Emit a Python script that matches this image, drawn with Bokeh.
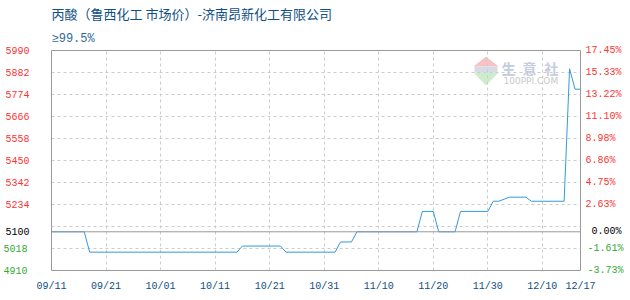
import pandas as pd
from bokeh.plotting import figure
from bokeh.models import (FixedTicker, Span, Label, Title, LinearAxis, Range1d,
                          PolyAnnotation, BoxAnnotation)
from bokeh.embed import file_html
from bokeh.resources import INLINE

# Propionic acid market price (yuan/ton), vertices of the daily series
dates = ["2019-09-11", "2019-09-17", "2019-09-18", "2019-10-15", "2019-10-16",
         "2019-10-23", "2019-10-24", "2019-11-02", "2019-11-03", "2019-11-05",
         "2019-11-06", "2019-11-17", "2019-11-18", "2019-11-20", "2019-11-21",
         "2019-11-24", "2019-11-25", "2019-11-30", "2019-12-01", "2019-12-02",
         "2019-12-03", "2019-12-04", "2019-12-07", "2019-12-08", "2019-12-14",
         "2019-12-15", "2019-12-16", "2019-12-17"]
prices = [5100, 5100, 5000, 5000, 5030,
          5030, 5000, 5000, 5050, 5050,
          5100, 5100, 5200, 5200, 5100,
          5100, 5200, 5200, 5250, 5250,
          5260, 5270, 5270, 5250, 5250,
          5900, 5800, 5800]

base_price = 5100
price_ticks = [4910, 5018, 5100, 5234, 5342, 5450, 5558, 5666, 5774, 5882, 5990]
grid_levels = [4910, 5018, 5126, 5234, 5342, 5450, 5558, 5666, 5774, 5882, 5990]
date_ticks = ["2019-09-11", "2019-09-21", "2019-10-01", "2019-10-11", "2019-10-21",
              "2019-10-31", "2019-11-10", "2019-11-20", "2019-11-30", "2019-12-10",
              "2019-12-17"]
date_labels = ["09/11", "09/21", "10/01", "10/11", "10/21", "10/31",
               "11/10", "11/20", "11/30", "12/10", "12/17"]

title_text = "丙酸（鲁西化工 市场价）-济南昂新化工有限公司"
subtitle_text = "≥99.5%"

RED = "#ff3333"
GREEN = "#33aa33"
BLACK = "#000000"
BLUE_TEXT = "#0f4f82"
LINE = "#3399dd"
MONO = "Liberation Mono"
LABEL_SIZE = "10px"


def to_ms(d):
    return int((pd.Timestamp(d) - pd.Timestamp("1970-01-01")) // pd.Timedelta(milliseconds=1))


def pct(v):
    return "%.2f%%" % ((v - base_price) / base_price * 100)


x = pd.to_datetime(dates)
tick_ms = [to_ms(d) for d in date_ticks]

p = figure(width=630, height=300, x_axis_type="datetime",
           x_range=Range1d(tick_ms[0], tick_ms[-1]),
           y_range=Range1d(price_ticks[0], price_ticks[-1]),
           min_border_left=50, min_border_right=50,
           min_border_top=49, min_border_bottom=30,
           output_backend="svg", toolbar_location=None)
p.background_fill_color = "white"
p.border_fill_color = "white"
p.outline_line_color = "#999999"
p.outline_line_width = 1

# titles: main title on top, purity grade just above the frame
p.title.text = title_text
p.title.align = "left"
p.title.text_font = "Noto Sans CJK SC"
p.title.text_font_size = "13px"
p.title.text_font_style = "normal"
p.title.text_color = BLUE_TEXT
p.title.standoff = 3
p.add_layout(Title(text=subtitle_text, align="left", text_font=MONO,
                   text_font_size="12px", text_font_style="normal",
                   text_color="#2f6a9a", standoff=10), "above")

# grid
p.xgrid.ticker = FixedTicker(ticks=tick_ms)
p.ygrid.ticker = FixedTicker(ticks=grid_levels)
for g in (p.xgrid, p.ygrid):
    g.grid_line_color = "#cccccc"
    g.grid_line_dash = "3 3"
    g.grid_line_width = 1


def style_axis(ax, color, standoff):
    ax.major_label_text_color = color
    ax.major_label_text_font = MONO
    ax.major_label_text_font_size = LABEL_SIZE
    ax.major_label_standoff = standoff
    ax.axis_line_color = None
    ax.major_tick_line_color = None
    ax.minor_tick_line_color = None
    ax.major_tick_out = 0
    ax.major_tick_in = 0
    ax.minor_tick_out = 0
    ax.minor_tick_in = 0


# x axis
xa = p.xaxis[0]
xa.ticker = FixedTicker(ticks=tick_ms)
xa.major_label_overrides = {t: lab for t, lab in zip(tick_ms, date_labels)}
style_axis(xa, BLUE_TEXT, 10)

# price axes: above base (red), below base (green), base (black)
groups = [
    (RED, [v for v in price_ticks if v > base_price]),
    (GREEN, [v for v in price_ticks if v < base_price]),
    (BLACK, [v for v in price_ticks if v == base_price]),
]
left_standoff = [22, -25, -29]
right_standoff = [5, -37, -35]

ya = p.yaxis[0]
ya.ticker = FixedTicker(ticks=groups[0][1])
style_axis(ya, RED, left_standoff[0])
for (color, ticks), so in zip(groups[1:], left_standoff[1:]):
    ax = LinearAxis(ticker=FixedTicker(ticks=ticks))
    style_axis(ax, color, so)
    p.add_layout(ax, "left")

# percentage change against the base price on the right
for (color, ticks), so in zip(groups, right_standoff):
    ax = LinearAxis(ticker=FixedTicker(ticks=ticks))
    ax.major_label_overrides = {v: pct(v) for v in ticks}
    style_axis(ax, color, so)
    p.add_layout(ax, "right")

p.add_layout(Span(location=base_price, dimension="width", line_color="#999999", line_width=1))

# watermark
p.add_layout(PolyAnnotation(xs=[422, 447, 434.5], ys=[204, 204, 214], xs_units="screen",
                            ys_units="screen", fill_color="#f6c2c2", fill_alpha=1,
                            line_color=None, level="image"))
p.add_layout(BoxAnnotation(left=423, right=446, bottom=198, top=204, left_units="screen",
                           right_units="screen", bottom_units="screen", top_units="screen",
                           fill_color="#d6dbe6", fill_alpha=1, line_color=None, level="image"))
p.add_layout(PolyAnnotation(xs=[422, 447, 434.5], ys=[198, 198, 185], xs_units="screen",
                            ys_units="screen", fill_color="#cdeccd", fill_alpha=1,
                            line_color=None, level="image"))
for cx, ch in zip([457, 478, 500], ["生", "意", "社"]):
    p.add_layout(Label(x=cx, y=203, x_units="screen", y_units="screen", text=ch,
                       text_align="center", text_baseline="middle",
                       text_font="Noto Sans CJK SC", text_font_size="14px",
                       text_font_style="bold", text_color="#c3cce0", level="image"))
p.add_layout(Label(x=452, y=190, x_units="screen", y_units="screen", text="100PPI.COM",
                   text_align="left", text_baseline="middle", text_font="DejaVu Sans",
                   text_font_size="9px", text_color="#c8c8c8", level="image"))

# price line
p.line(x, prices, line_color=LINE, line_width=1)

open("out.html", "w").write(file_html(p, INLINE))
